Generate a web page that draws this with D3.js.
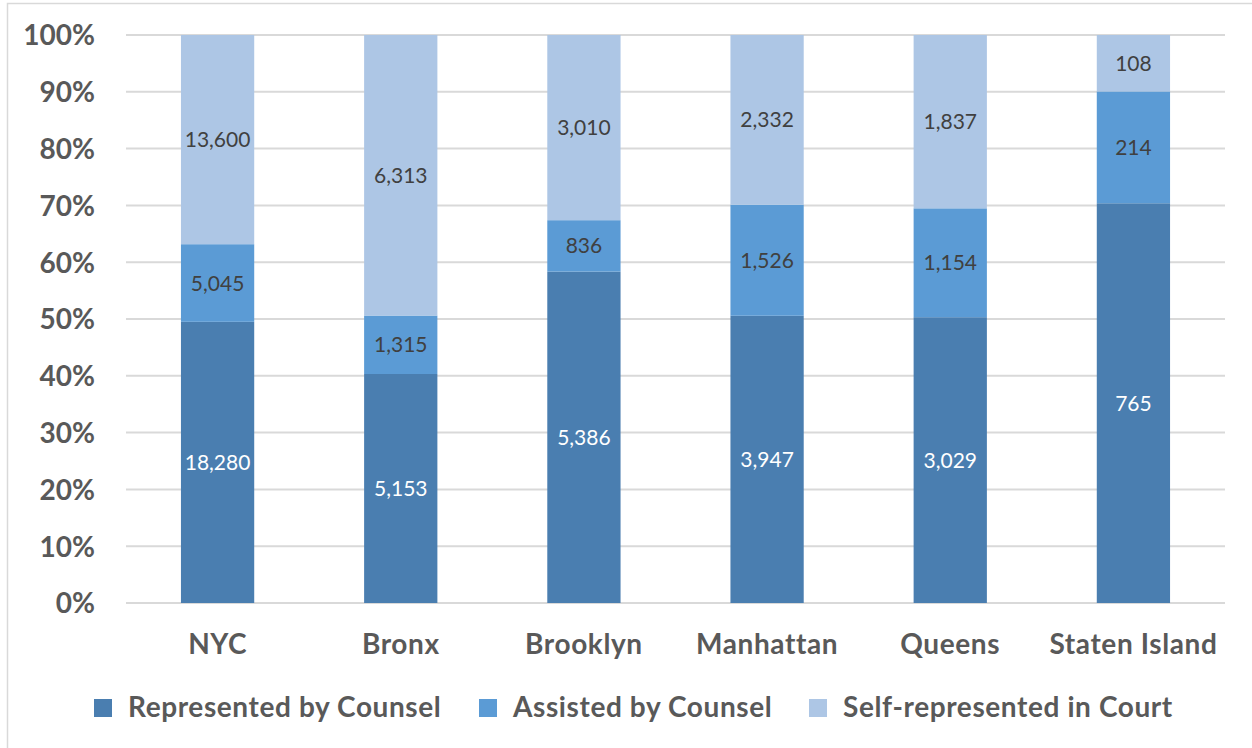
<!DOCTYPE html>
<html lang="en">
<head>
  <meta charset="UTF-8" />
  <title>Representation in Housing Court</title>
  <script src="https://d3js.org/d3.v7.min.js"></script>
  <style>
    body { margin: 0; background: #fff; }
    text { font-family: Lato, "Open Sans", sans-serif; }
  </style>
</head>
<body>
  <svg></svg>
</body>
<script>
  // data
  const boroughs = ['NYC', 'Bronx', 'Brooklyn', 'Manhattan', 'Queens', 'Staten Island'];
  const represented = [18280, 5153, 5386, 3947, 3029, 765];
  const assisted = [5045, 1315, 836, 1526, 1154, 214];
  const selfRep = [13600, 6313, 3010, 2332, 1837, 108];
  const seriesNames = ['Represented by Counsel', 'Assisted by Counsel', 'Self-represented in Court'];
  const colors = ['#4a7eb0', '#5b9bd5', '#adc6e5'];
  const labelColors = ['#ffffff', '#404040', '#404040'];
  const yTicks = [0, 0.1, 0.2, 0.3, 0.4, 0.5, 0.6, 0.7, 0.8, 0.9, 1];

  const width = 1252, height = 748;
  const margin = { left: 126, right: 27, top: 35, bottom: 145 };

  const svg = d3.select('svg').attr('width', width).attr('height', height);

  // outer chart border (only left and top visible)
  svg.append('rect')
    .attr('x', 7.5).attr('y', 3.5)
    .attr('width', 1300).attr('height', 800)
    .attr('fill', 'none').attr('stroke', '#d9d9d9').attr('stroke-width', 1.5);

  const table = boroughs.map((b, i) => {
    const total = represented[i] + assisted[i] + selfRep[i];
    return { borough: b, vals: [represented[i], assisted[i], selfRep[i]], total: total };
  });

  const x = d3.scaleBand()
    .domain(boroughs)
    .range([margin.left, width - margin.right])
    .paddingInner(0.6).paddingOuter(0.3);

  const y = d3.scaleLinear()
    .domain([0, 1])
    .range([height - margin.bottom, margin.top]);

  // gridlines
  svg.append('g')
    .selectAll('line')
    .data(yTicks)
    .join('line')
    .attr('x1', margin.left).attr('x2', width - margin.right)
    .attr('y1', d => y(d)).attr('y2', d => y(d))
    .attr('stroke', '#d9d9d9').attr('stroke-width', 2);

  // y axis labels
  const yAxis = d3.axisLeft(y).tickValues(yTicks).tickFormat(d3.format('.0%')).tickSize(0).tickPadding(31);
  const gy = svg.append('g').attr('transform', 'translate(' + margin.left + ',0)').call(yAxis);
  gy.select('.domain').remove();
  gy.selectAll('text')
    .attr('fill', '#595959')
    .style('font-size', '28px').style('font-weight', 'bold')
    .attr('dy', '0.35em');

  // stacked segments
  const segs = [];
  table.forEach(row => {
    let acc = 0;
    row.vals.forEach((v, k) => {
      const p = v / row.total;
      segs.push({ borough: row.borough, k: k, v: v, y0: acc, y1: acc + p });
      acc += p;
    });
  });

  svg.append('g')
    .selectAll('rect')
    .data(segs)
    .join('rect')
    .attr('x', d => x(d.borough))
    .attr('width', x.bandwidth())
    .attr('y', d => y(d.y1))
    .attr('height', d => y(d.y0) - y(d.y1))
    .attr('fill', d => colors[d.k]);

  svg.append('g')
    .selectAll('text')
    .data(segs)
    .join('text')
    .attr('x', d => x(d.borough) + x.bandwidth() / 2)
    .attr('y', d => y((d.y0 + d.y1) / 2))
    .attr('dy', '0.36em')
    .attr('text-anchor', 'middle')
    .attr('fill', d => labelColors[d.k])
    .style('font-size', '21px')
    .text(d => d3.format(',')(d.v));

  // category labels
  const xAxis = d3.axisBottom(x).tickSize(0).tickPadding(31);
  const gx = svg.append('g').attr('transform', 'translate(0,' + (height - margin.bottom) + ')').call(xAxis);
  gx.select('.domain').remove();
  gx.selectAll('text')
    .attr('fill', '#595959')
    .style('font-size', '28px').style('font-weight', 'bold')
    .style('letter-spacing', '0.6px');

  // legend
  const legendX = [94, 479, 809];
  const lg = svg.append('g')
    .selectAll('g')
    .data(seriesNames)
    .join('g')
    .attr('transform', (d, i) => 'translate(' + legendX[i] + ',699)');
  lg.append('rect').attr('width', 18).attr('height', 18).attr('fill', (d, i) => colors[i]);
  lg.append('text')
    .attr('x', 34).attr('y', 18)
    .attr('fill', '#595959')
    .style('font-size', '28px').style('font-weight', 'bold')
    .style('letter-spacing', '0.6px')
    .text(d => d);
</script>
</html>
